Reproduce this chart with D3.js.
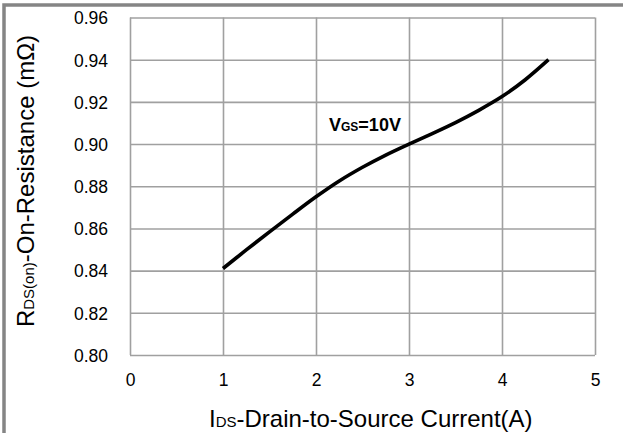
<!DOCTYPE html>
<html>
<head>
<meta charset="utf-8">
<script src="https://cdn.jsdelivr.net/npm/d3@7"></script>
<style>
  html, body { margin: 0; padding: 0; background: #fff; }
  svg { display: block; font-family: "Liberation Sans", Arial, sans-serif; }
</style>
</head>
<body>
<svg id="chart" width="623" height="433"></svg>
<script>
// Drain current (A) and on-resistance (mΩ) at VGS = 10V
const currentA = [1.0, 1.25, 1.5, 1.75, 2.0, 2.25, 2.5, 2.75, 3.0, 3.25, 3.5, 3.75, 4.0, 4.25, 4.5];
const rdsOn    = [0.8410, 0.8498, 0.8584, 0.8668, 0.8750, 0.8825, 0.8890, 0.8948, 0.9000,
                  0.9050, 0.9102, 0.9160, 0.9225, 0.9305, 0.9400];
const xTicks = [0, 1, 2, 3, 4, 5];
const yTicks = [0.80, 0.82, 0.84, 0.86, 0.88, 0.90, 0.92, 0.94, 0.96];

const svg = d3.select("#chart");
const W = 623, H = 433;
const plot = { left: 130, right: 595, top: 17.5, bottom: 355 };

// outer frame
svg.append("rect")
  .attr("x", 4).attr("y", 5)
  .attr("width", W + 20).attr("height", H + 20)
  .attr("fill", "#fff")
  .attr("stroke", "#858585")
  .attr("stroke-width", 3.5);

const x = d3.scaleLinear().domain([0, 5]).range([plot.left, plot.right]);
const y = d3.scaleLinear().domain([0.80, 0.96]).range([plot.bottom, plot.top]);

const gridColor = "#a0a0a0";

// vertical grid lines
svg.append("g")
  .attr("transform", `translate(0,${plot.bottom})`)
  .call(d3.axisBottom(x).tickValues(xTicks).tickSize(-(plot.bottom - plot.top)).tickFormat(""))
  .call(g => g.select(".domain").remove())
  .call(g => g.selectAll("line").attr("stroke", gridColor).attr("stroke-width", 1.6));

// horizontal grid lines
svg.append("g")
  .attr("transform", `translate(${plot.left},0)`)
  .call(d3.axisLeft(y).tickValues(yTicks).tickSize(-(plot.right - plot.left)).tickFormat(""))
  .call(g => g.select(".domain").remove())
  .call(g => g.selectAll("line").attr("stroke", gridColor).attr("stroke-width", 1.6));

// tick labels
svg.append("g")
  .attr("transform", `translate(0,${plot.bottom})`)
  .call(d3.axisBottom(x).tickValues(xTicks).tickSize(0).tickPadding(0).tickFormat(d3.format("d")))
  .call(g => g.select(".domain").remove())
  .call(g => g.selectAll("text")
    .attr("y", 31).attr("dy", null)
    .attr("font-size", 17.5).attr("font-family", "Liberation Sans, Arial, sans-serif")
    .attr("fill", "#000"));

svg.append("g")
  .attr("transform", `translate(108,0)`)
  .call(d3.axisLeft(y).tickValues(yTicks).tickSize(0).tickPadding(0).tickFormat(d3.format(".2f")))
  .call(g => g.select(".domain").remove())
  .call(g => g.selectAll("text")
    .attr("x", 0).attr("dy", "0.36em")
    .attr("font-size", 17.5).attr("font-family", "Liberation Sans, Arial, sans-serif")
    .attr("fill", "#000"));

// curve
const pts = currentA.map((c, i) => [c, rdsOn[i]]);
svg.append("path")
  .datum(pts)
  .attr("fill", "none")
  .attr("stroke", "#000")
  .attr("stroke-width", 3.6)
  .attr("stroke-linecap", "butt")
  .attr("d", d3.line().x(d => x(d[0])).y(d => y(d[1])).curve(d3.curveCatmullRom));

// series label
const lab = svg.append("text")
  .attr("x", 329).attr("y", 131)
  .attr("font-size", 18).attr("font-weight", "bold").attr("fill", "#000");
lab.append("tspan").text("V");
lab.append("tspan").attr("font-size", 12).text("GS");
lab.append("tspan").text("=10V");

// x axis title
const xt = svg.append("text")
  .attr("x", 209).attr("y", 427)
  .attr("font-size", 24).attr("fill", "#000");
xt.append("tspan").text("I");
xt.append("tspan").attr("font-size", 15).text("DS");
xt.append("tspan").text("-Drain-to-Source Current(A)");

// y axis title
const yt = svg.append("text")
  .attr("transform", "translate(34,181) rotate(-90)")
  .attr("text-anchor", "middle")
  .attr("font-size", 24).attr("fill", "#000");
yt.append("tspan").text("R");
yt.append("tspan").attr("font-size", 15).text("DS(on)");
yt.append("tspan").text("-On-Resistance (mΩ)");
</script>
</body>
</html>
